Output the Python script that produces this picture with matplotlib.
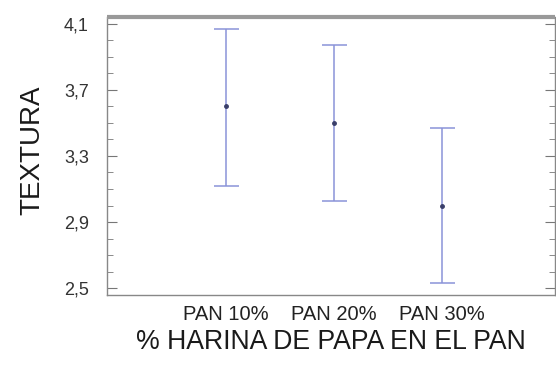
import numpy as np
import matplotlib.pyplot as plt
from matplotlib.ticker import MultipleLocator, FuncFormatter

# ===== Data =====
categories = ["PAN 10%", "PAN 20%", "PAN 30%"]
means = [3.60, 3.50, 3.00]
upper = [4.07, 3.97, 3.47]
lower = [3.12, 3.03, 2.53]

x = np.arange(1, len(categories) + 1)
err = [np.array(means) - np.array(lower), np.array(upper) - np.array(means)]

plt.rcParams["font.family"] = ["Liberation Sans", "DejaVu Sans"]

fig = plt.figure(figsize=(5.56, 3.67), dpi=100)
ax = fig.add_axes([0.1924, 0.196, 0.806, 0.758])

ax.errorbar(x, means, yerr=err, fmt="none", ecolor="#8a93d8", elinewidth=1.1,
            capsize=9, capthick=1.1)
ax.plot(x, means, "o", color="#3a3f6a", markersize=2.5)

ax.set_xlim(-0.1, 4.05)
ax.set_ylim(2.458, 4.142)
ax.yaxis.set_minor_locator(MultipleLocator(0.1))
ax.set_yticks([2.5, 2.9, 3.3, 3.7, 4.1])
ax.yaxis.set_major_formatter(FuncFormatter(lambda v, p: f"{v:.1f}".replace(".", ",")))
ax.set_xticks(x)
ax.set_xticklabels(categories, fontsize=14.5)

ax.tick_params(axis="y", which="both", direction="in", right=True, colors="#777777",
               labelcolor="#333333", labelsize=13, pad=13)
ax.tick_params(axis="y", which="major", length=7)
ax.tick_params(axis="y", which="minor", length=4)
ax.tick_params(axis="x", length=0, pad=7, labelcolor="#222222")

for s in ["left", "bottom", "right"]:
    ax.spines[s].set_color("#888888")
    ax.spines[s].set_linewidth(1.0)
ax.spines["top"].set_color("#999999")
ax.spines["top"].set_linewidth(3)
ax.spines["top"].set_capstyle("butt")

ax.set_ylabel("TEXTURA", fontsize=20, color="#1a1a1a")
ax.yaxis.set_label_coords(-0.138, 0.52)
ax.set_xlabel("% HARINA DE PAPA EN EL PAN", fontsize=19.2, color="#1a1a1a", labelpad=4)

fig.savefig("out.png", dpi=100)
